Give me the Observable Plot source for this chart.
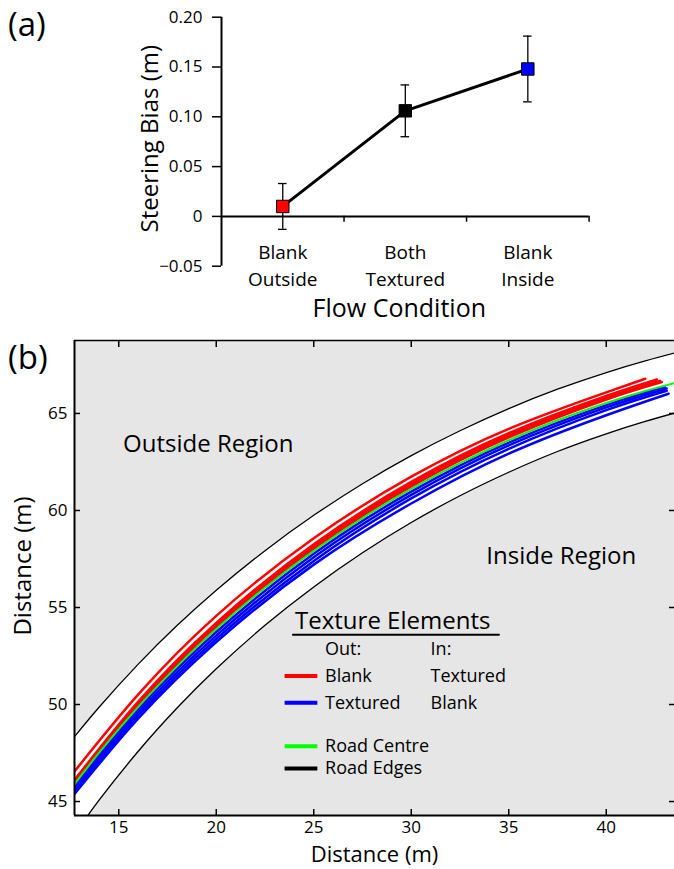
<!DOCTYPE html>
<html><head><meta charset="utf-8">
<script src="https://cdn.jsdelivr.net/npm/d3@7"></script>
<script src="https://cdn.jsdelivr.net/npm/@observablehq/plot@0.6"></script>
<style>
body{margin:0;background:#fff;width:674px;height:869px;overflow:hidden;position:relative;font-family:"Open Sans",sans-serif;}
#a{position:absolute;left:0;top:0;}
#b{position:absolute;left:0;top:330px;}
.plabel{position:absolute;left:8px;font-size:33px;line-height:1;color:#000;}
</style></head><body>
<div id="a"></div><div id="b"></div>
<div class="plabel" style="top:7px">(a)</div>
<div class="plabel" style="top:340px">(b)</div>
<script>
// ---------- Panel (a) data ----------
const conditions = ["Blank\nOutside", "Both\nTextured", "Blank\nInside"];
const biasValues = [0.010, 0.106, 0.148];
const biasErrors = [0.023, 0.026, 0.033];
const markerFills = ["#ff0000", "#000000", "#0000ff"];
const biasTicks = [-0.05, 0, 0.05, 0.10, 0.15, 0.20];
const biasTickLabels = ["\u22120.05", "0", "0.05", "0.10", "0.15", "0.20"];

// ---------- Panel (b) data ----------
const roadX      = [12.73, 14, 16, 18, 20, 22.5, 25, 27.5, 30, 32.5, 35, 37.5, 40, 42, 43.55];
const roadCentre = [45.89, 47.53, 49.88, 51.98, 53.89, 56.02, 57.92, 59.61, 61.11, 62.44, 63.62, 64.65, 65.54, 66.16, 66.58];
const roadOuter  = [48.34, 49.87, 52.08, 54.08, 55.89, 57.93, 59.75, 61.38, 62.83, 64.11, 65.25, 66.25, 67.11, 67.71, 68.13];
const roadInner  = [43.31, 45.08, 47.59, 49.83, 51.84, 54.08, 56.06, 57.82, 59.38, 60.76, 61.97, 63.04, 63.95, 64.59, 65.03];

const trajSampleX = [12.73, 16, 20, 25, 30, 35, 40];
const blankEndX = [42.0, 42.6, 42.75, 42.85];
const blankY = [
  [46.55, 50.52, 54.57, 58.57, 61.74, 64.21, 66.09, 66.79],
  [46.11, 50.15, 54.21, 58.26, 61.47, 63.98, 65.90, 66.75],
  [46.02, 50.04, 54.09, 58.15, 61.36, 63.87, 65.80, 66.68],
  [45.94, 49.95, 53.98, 58.03, 61.24, 63.77, 65.72, 66.62]
];
const texturedEndX = [43.0, 43.1, 43.1, 43.2];
const texturedY = [
  [45.79, 49.75, 53.74, 57.77, 60.97, 63.50, 65.43, 66.36],
  [45.66, 49.58, 53.55, 57.59, 60.80, 63.35, 65.31, 66.29],
  [45.52, 49.43, 53.38, 57.40, 60.62, 63.18, 65.17, 66.17],
  [45.39, 49.28, 53.22, 57.21, 60.36, 62.93, 64.91, 66.02]
];
const distTicksX = [15, 20, 25, 30, 35, 40];
const distTicksY = [45, 50, 55, 60, 65];
const legendOut = ["Blank", "Textured"];
const legendIn = ["Textured", "Blank"];
const roadLegend = ["Road Centre", "Road Edges"];

const FONT = "Open Sans";

// ---------- Panel (a) ----------
const rowsA = conditions.map((c, i) => ({c, x: i + 0.5, v: biasValues[i], e: biasErrors[i], fill: markerFills[i]}));
const capHalf = 0.035;
const plotA = Plot.plot({
  width: 674, height: 330,
  marginLeft: 221, marginRight: 85.4, marginTop: 16.7, marginBottom: 64.3,
  style: {fontFamily: FONT, fontSize: "17px", color: "#000", background: "transparent", overflow: "visible"},
  x: {domain: [0, 3], label: null},
  y: {domain: [-0.05, 0.2], label: null},
  color: {type: "identity"},
  marks: [
    Plot.axisY({ticks: biasTicks, tickFormat: d => biasTickLabels[biasTicks.findIndex(t => Math.abs(t - d) < 1e-9)], tickSize: 9, tickPadding: 10, strokeWidth: 1.5, fontSize: 17, label: null}),
    Plot.ruleX([0], {y1: -0.05, y2: 0.2, strokeWidth: 2}),
    Plot.ruleY([0], {x1: 0, x2: 3, strokeWidth: 2}),
    Plot.axisX({ticks: [1, 2, 3], tickFormat: () => "", tickSize: 6, dy: -50, strokeWidth: 1.5, label: null}),
    Plot.ruleX(rowsA, {x: "x", y1: d => d.v - d.e, y2: d => d.v + d.e, strokeWidth: 1.3}),
    Plot.ruleY(rowsA, {y: d => d.v + d.e, x1: d => d.x - capHalf, x2: d => d.x + capHalf, strokeWidth: 1.3}),
    Plot.ruleY(rowsA, {y: d => d.v - d.e, x1: d => d.x - capHalf, x2: d => d.x + capHalf, strokeWidth: 1.3}),
    Plot.line(rowsA, {x: "x", y: "v", strokeWidth: 3}),
    Plot.dot(rowsA, {x: "x", y: "v", symbol: "square", r: 7, fill: "fill", stroke: "#000", strokeWidth: 1}),
    Plot.text(rowsA, {x: "x", text: "c", frameAnchor: "bottom", lineAnchor: "middle", lineHeight: 1.42, dy: -2, fontSize: 19}),
    Plot.text(["Flow Condition"], {x: 1.5, frameAnchor: "bottom", lineAnchor: "middle", dy: 43, dx: -6, fontSize: 25}),
    Plot.text(["Steering Bias (m)"], {frameAnchor: "left", rotate: -90, dx: -71, dy: -3, fontSize: 24, textAnchor: "middle"})
  ]
});
document.getElementById("a").appendChild(plotA);

// ---------- Panel (b) ----------
const roadRows = roadX.map((x, i) => ({x, centre: roadCentre[i], outer: roadOuter[i], inner: roadInner[i]}));
const blankRows = blankY.flatMap((ys, k) => trajSampleX.concat([blankEndX[k]]).map((x, j) => ({id: k, x, y: ys[j]})));
const texturedRows = texturedY.flatMap((ys, k) => trajSampleX.concat([texturedEndX[k]]).map((x, j) => ({id: k, x, y: ys[j]})));
const xMin = 12.73, xMax = 43.5, yMin = 44.28, yMax = 68.76;
const legRows = [
  {out: legendOut[0], inn: legendIn[0], color: "#ff0000", y: 51.47},
  {out: legendOut[1], inn: legendIn[1], color: "#0000ff", y: 50.09}
];
const roadLegRows = [
  {label: roadLegend[0], color: "#00ff00", y: 47.85},
  {label: roadLegend[1], color: "#000000", y: 46.70}
];
const plotB = Plot.plot({
  width: 674, height: 539,
  marginLeft: 74, marginRight: 0, marginTop: 10, marginBottom: 54,
  style: {fontFamily: FONT, fontSize: "17px", color: "#000", background: "transparent", overflow: "visible"},
  x: {domain: [xMin, xMax], label: null},
  y: {domain: [yMin, yMax], label: null},
  color: {type: "identity"},
  marks: [
    Plot.frame({fill: "#e6e6e6", stroke: null}),
    Plot.areaY(roadRows, {x: "x", y1: "inner", y2: "outer", fill: "#ffffff", curve: "natural", clip: true}),
    Plot.line(roadRows, {x: "x", y: "outer", stroke: "#000", strokeWidth: 1.3, curve: "natural", clip: true}),
    Plot.line(roadRows, {x: "x", y: "inner", stroke: "#000", strokeWidth: 1.3, curve: "natural", clip: true}),
    Plot.line(blankRows, {x: "x", y: "y", z: "id", stroke: "#ff0000", strokeWidth: 2.5, curve: "natural", clip: true}),
    Plot.line(texturedRows, {x: "x", y: "y", z: "id", stroke: "#0000ff", strokeWidth: 2.5, curve: "natural", clip: true}),
    Plot.line(roadRows, {x: "x", y: "centre", stroke: "#00ff00", strokeWidth: 2, curve: "natural", clip: true}),
    Plot.ruleX([xMin], {strokeWidth: 2}),
    Plot.ruleY([yMin], {strokeWidth: 2}),
    Plot.ruleY([yMax], {strokeWidth: 1.5}),
    Plot.axisX({anchor: "bottom", ticks: distTicksX, tickSize: 6, dy: -6, tickFormat: () => "", strokeWidth: 1.5, label: null}),
    Plot.axisX({anchor: "top", ticks: distTicksX, tickSize: 6, dy: 6, tickFormat: () => "", strokeWidth: 1.5, label: null}),
    Plot.axisX({anchor: "bottom", ticks: distTicksX, tickSize: 0, tickPadding: 5, fontSize: 17, label: null}),
    Plot.axisY({anchor: "left", ticks: distTicksY, tickSize: 6, dx: 6, tickFormat: () => "", strokeWidth: 1.5, label: null}),
    Plot.axisY({anchor: "right", ticks: distTicksY, tickSize: 6, dx: -6, tickFormat: () => "", strokeWidth: 1.5, label: null}),
    Plot.axisY({anchor: "left", ticks: distTicksY, tickSize: 0, tickPadding: 7, fontSize: 17, label: null}),
    Plot.text(["Distance (m)"], {frameAnchor: "bottom", lineAnchor: "middle", dy: 39, fontSize: 22}),
    Plot.text(["Distance (m)"], {frameAnchor: "left", rotate: -90, dx: -51, dy: -12, fontSize: 24, textAnchor: "middle"}),
    Plot.text(["Outside Region"], {x: 15.22, y: 63.4, textAnchor: "start", lineAnchor: "middle", fontSize: 24}),
    Plot.text(["Inside Region"], {x: 33.85, y: 57.63, textAnchor: "start", lineAnchor: "middle", fontSize: 24}),
    Plot.text(["Texture Elements"], {x: 24.04, y: 54.28, textAnchor: "start", lineAnchor: "middle", fontSize: 24}),
    Plot.ruleY([53.60], {x1: 23.92, x2: 34.56, strokeWidth: 2}),
    Plot.text(["Out:"], {x: 25.58, y: 52.84, textAnchor: "start", lineAnchor: "middle", fontSize: 18}),
    Plot.text(["In:"], {x: 30.99, y: 52.84, textAnchor: "start", lineAnchor: "middle", fontSize: 18}),
    Plot.ruleY(legRows, {y: "y", x1: 23.53, x2: 25.21, stroke: "color", strokeWidth: 4}),
    Plot.text(legRows, {x: 25.58, y: "y", text: "out", textAnchor: "start", lineAnchor: "middle", fontSize: 18}),
    Plot.text(legRows, {x: 30.99, y: "y", text: "inn", textAnchor: "start", lineAnchor: "middle", fontSize: 18}),
    Plot.ruleY(roadLegRows, {y: "y", x1: 23.53, x2: 25.21, stroke: "color", strokeWidth: 4}),
    Plot.text(roadLegRows, {x: 25.58, y: "y", text: "label", textAnchor: "start", lineAnchor: "middle", fontSize: 18})
  ]
});
document.getElementById("b").appendChild(plotB);
</script>
</body></html>
